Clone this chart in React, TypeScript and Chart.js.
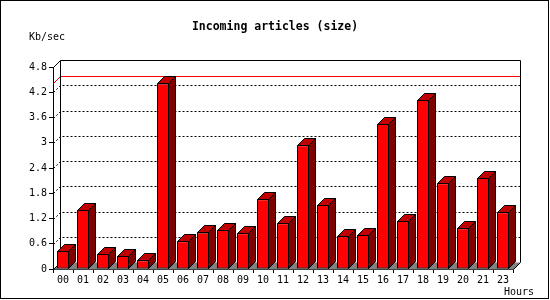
import { useEffect, useRef } from 'react';
import { Chart, registerables } from 'chart.js';

Chart.register(...registerables);

const hours = ['00', '01', '02', '03', '04', '05', '06', '07', '08', '09', '10', '11', '12', '13', '14', '15', '16', '17', '18', '19', '20', '21', '23'];
const kbPerSec = [0.43, 1.40, 0.36, 0.31, 0.21, 4.41, 0.66, 0.87, 0.93, 0.85, 1.66, 1.09, 2.94, 1.52, 0.78, 0.81, 3.45, 1.14, 4.02, 2.04, 0.97, 2.16, 1.35];
const yTicks = [0, 0.6, 1.2, 1.8, 2.4, 3, 3.6, 4.2, 4.8];
const chartTitle = 'Incoming articles (size)';
const yUnit = 'Kb/sec';
const xUnit = 'Hours';

const DEPTH = 7;
const MONO = '"DejaVu Sans Mono", "Liberation Mono", monospace';

const threeD = {
  id: 'threeD',
  beforeDraw(chart: any) {
    const { ctx, width, height } = chart;
    ctx.save();
    ctx.fillStyle = '#ffffff';
    ctx.fillRect(0, 0, width, height);
    ctx.strokeStyle = '#000000';
    ctx.lineWidth = 1;
    ctx.strokeRect(0.5, 0.5, width - 2, height - 2);
    ctx.restore();
  },
  beforeDatasetsDraw(chart: any) {
    const { ctx, chartArea, scales } = chart;
    const { left, right, top, bottom } = chartArea;
    const y = scales.y;
    const d = DEPTH;
    const L = Math.round(left) + 0.5;
    const R = Math.round(right) + 0.5;
    const T = Math.round(top) + 0.5;
    const B = Math.round(bottom) + 0.5;
    ctx.save();
    ctx.lineWidth = 1;
    // floor
    ctx.fillStyle = '#808080';
    ctx.beginPath();
    ctx.moveTo(L, B);
    ctx.lineTo(R, B);
    ctx.lineTo(R + d, B - d);
    ctx.lineTo(L + d, B - d);
    ctx.closePath();
    ctx.fill();
    // dotted gridlines on back wall and side wall
    ctx.strokeStyle = '#000000';
    ctx.setLineDash([2, 2]);
    for (const v of yTicks) {
      if (v === yTicks[0] || v === yTicks[yTicks.length - 1]) continue;
      const yf = Math.round(y.getPixelForValue(v)) + 0.5;
      ctx.beginPath();
      ctx.moveTo(L + d + 2, yf - d);
      ctx.lineTo(R + d, yf - d);
      ctx.stroke();
      ctx.beginPath();
      ctx.moveTo(L, yf);
      ctx.lineTo(L + d, yf - d);
      ctx.stroke();
    }
    ctx.setLineDash([]);
    // max line
    const maxV = Math.max(...kbPerSec);
    const ym = Math.round(y.getPixelForValue(maxV)) + 0.5;
    ctx.strokeStyle = '#ff0000';
    ctx.beginPath();
    ctx.moveTo(L, ym);
    ctx.lineTo(L + d, ym - d);
    ctx.lineTo(R + d, ym - d);
    ctx.stroke();
    // frame
    ctx.strokeStyle = '#000000';
    ctx.beginPath();
    ctx.moveTo(L, T);
    ctx.lineTo(L + d, T - d);
    ctx.lineTo(R + d, T - d);
    ctx.lineTo(R + d, B - d);
    ctx.lineTo(R, B);
    ctx.moveTo(L + d, T - d);
    ctx.lineTo(L + d, B - d);
    ctx.moveTo(L, B);
    ctx.lineTo(L + d, B - d);
    ctx.stroke();
    ctx.restore();
  },
  afterDatasetsDraw(chart: any) {
    const { ctx } = chart;
    const d = DEPTH;
    const meta = chart.getDatasetMeta(0);
    ctx.save();
    ctx.lineWidth = 1;
    ctx.strokeStyle = '#000000';
    meta.data.forEach((bar: any) => {
      const { x, y, width, base } = bar.getProps(['x', 'y', 'width', 'base'], true);
      const X0 = Math.round(x - width / 2) + 0.5;
      const X1 = Math.round(x + width / 2) - 0.5;
      const Y0 = Math.round(y) + 0.5;
      const B = Math.round(base) - 0.5;
      // top face
      ctx.fillStyle = '#c00000';
      ctx.beginPath();
      ctx.moveTo(X0, Y0);
      ctx.lineTo(X1, Y0);
      ctx.lineTo(X1 + d, Y0 - d);
      ctx.lineTo(X0 + d, Y0 - d);
      ctx.closePath();
      ctx.fill();
      ctx.stroke();
      // side face
      ctx.fillStyle = '#800000';
      ctx.beginPath();
      ctx.moveTo(X1, Y0);
      ctx.lineTo(X1 + d, Y0 - d);
      ctx.lineTo(X1 + d, B - d);
      ctx.lineTo(X1, B);
      ctx.closePath();
      ctx.fill();
      ctx.stroke();
    });
    ctx.restore();
  },
  afterDraw(chart: any) {
    const { ctx, width } = chart;
    ctx.save();
    ctx.fillStyle = '#000000';
    ctx.textBaseline = 'middle';
    ctx.textAlign = 'center';
    ctx.font = `bold 11.5px ${MONO}`;
    ctx.fillText(chartTitle, width / 2, 27);
    ctx.font = `10px ${MONO}`;
    ctx.textAlign = 'left';
    ctx.fillText(yUnit, 29, 37);
    ctx.fillText(xUnit, 504, 292);
    ctx.restore();
  },
};

export default function App() {
  const ref = useRef<HTMLCanvasElement | null>(null);

  useEffect(() => {
    document.body.style.margin = '0';
    if (!ref.current) return;
    const chart = new Chart(ref.current, {
      type: 'bar',
      data: {
        labels: hours,
        datasets: [
          {
            data: kbPerSec,
            backgroundColor: '#ff0000',
            borderColor: '#000000',
            borderWidth: 1,
            borderSkipped: false,
            barPercentage: 0.6,
            categoryPercentage: 1.0,
          },
        ],
      },
      options: {
        responsive: false,
        animation: false,
        devicePixelRatio: 1,
        layout: { padding: { left: 0, right: 37, top: 67, bottom: 0 }, autoPadding: false },
        plugins: {
          legend: { display: false },
          tooltip: { enabled: false },
          title: { display: false },
        },
        scales: {
          x: {
            type: 'category',
            offset: true,
            grid: {
              offset: true,
              drawOnChartArea: false,
              drawTicks: true,
              tickLength: 4,
              color: '#000000',
            },
            border: { display: true, color: '#000000' },
            ticks: {
              color: '#000000',
              font: { family: MONO, size: 10 },
              padding: 1,
              maxRotation: 0,
              autoSkip: false,
            },
            afterFit: (s: any) => {
              s.height = 31;
            },
          },
          y: {
            type: 'linear',
            min: 0,
            max: 4.8,
            afterBuildTicks: (s: any) => {
              s.ticks = yTicks.map((v) => ({ value: v }));
            },
            grid: {
              drawOnChartArea: false,
              drawTicks: true,
              tickLength: 4,
              color: '#000000',
            },
            border: { display: true, color: '#000000' },
            ticks: {
              color: '#000000',
              font: { family: MONO, size: 10 },
              padding: 2,
              callback: (v: any) => String(Number(Number(v).toFixed(1))),
            },
            afterFit: (s: any) => {
              s.width = 53;
            },
          },
        },
      },
      plugins: [threeD],
    });
    return () => chart.destroy();
  }, []);

  return <canvas ref={ref} width={550} height={300} style={{ display: 'block' }} />;
}
